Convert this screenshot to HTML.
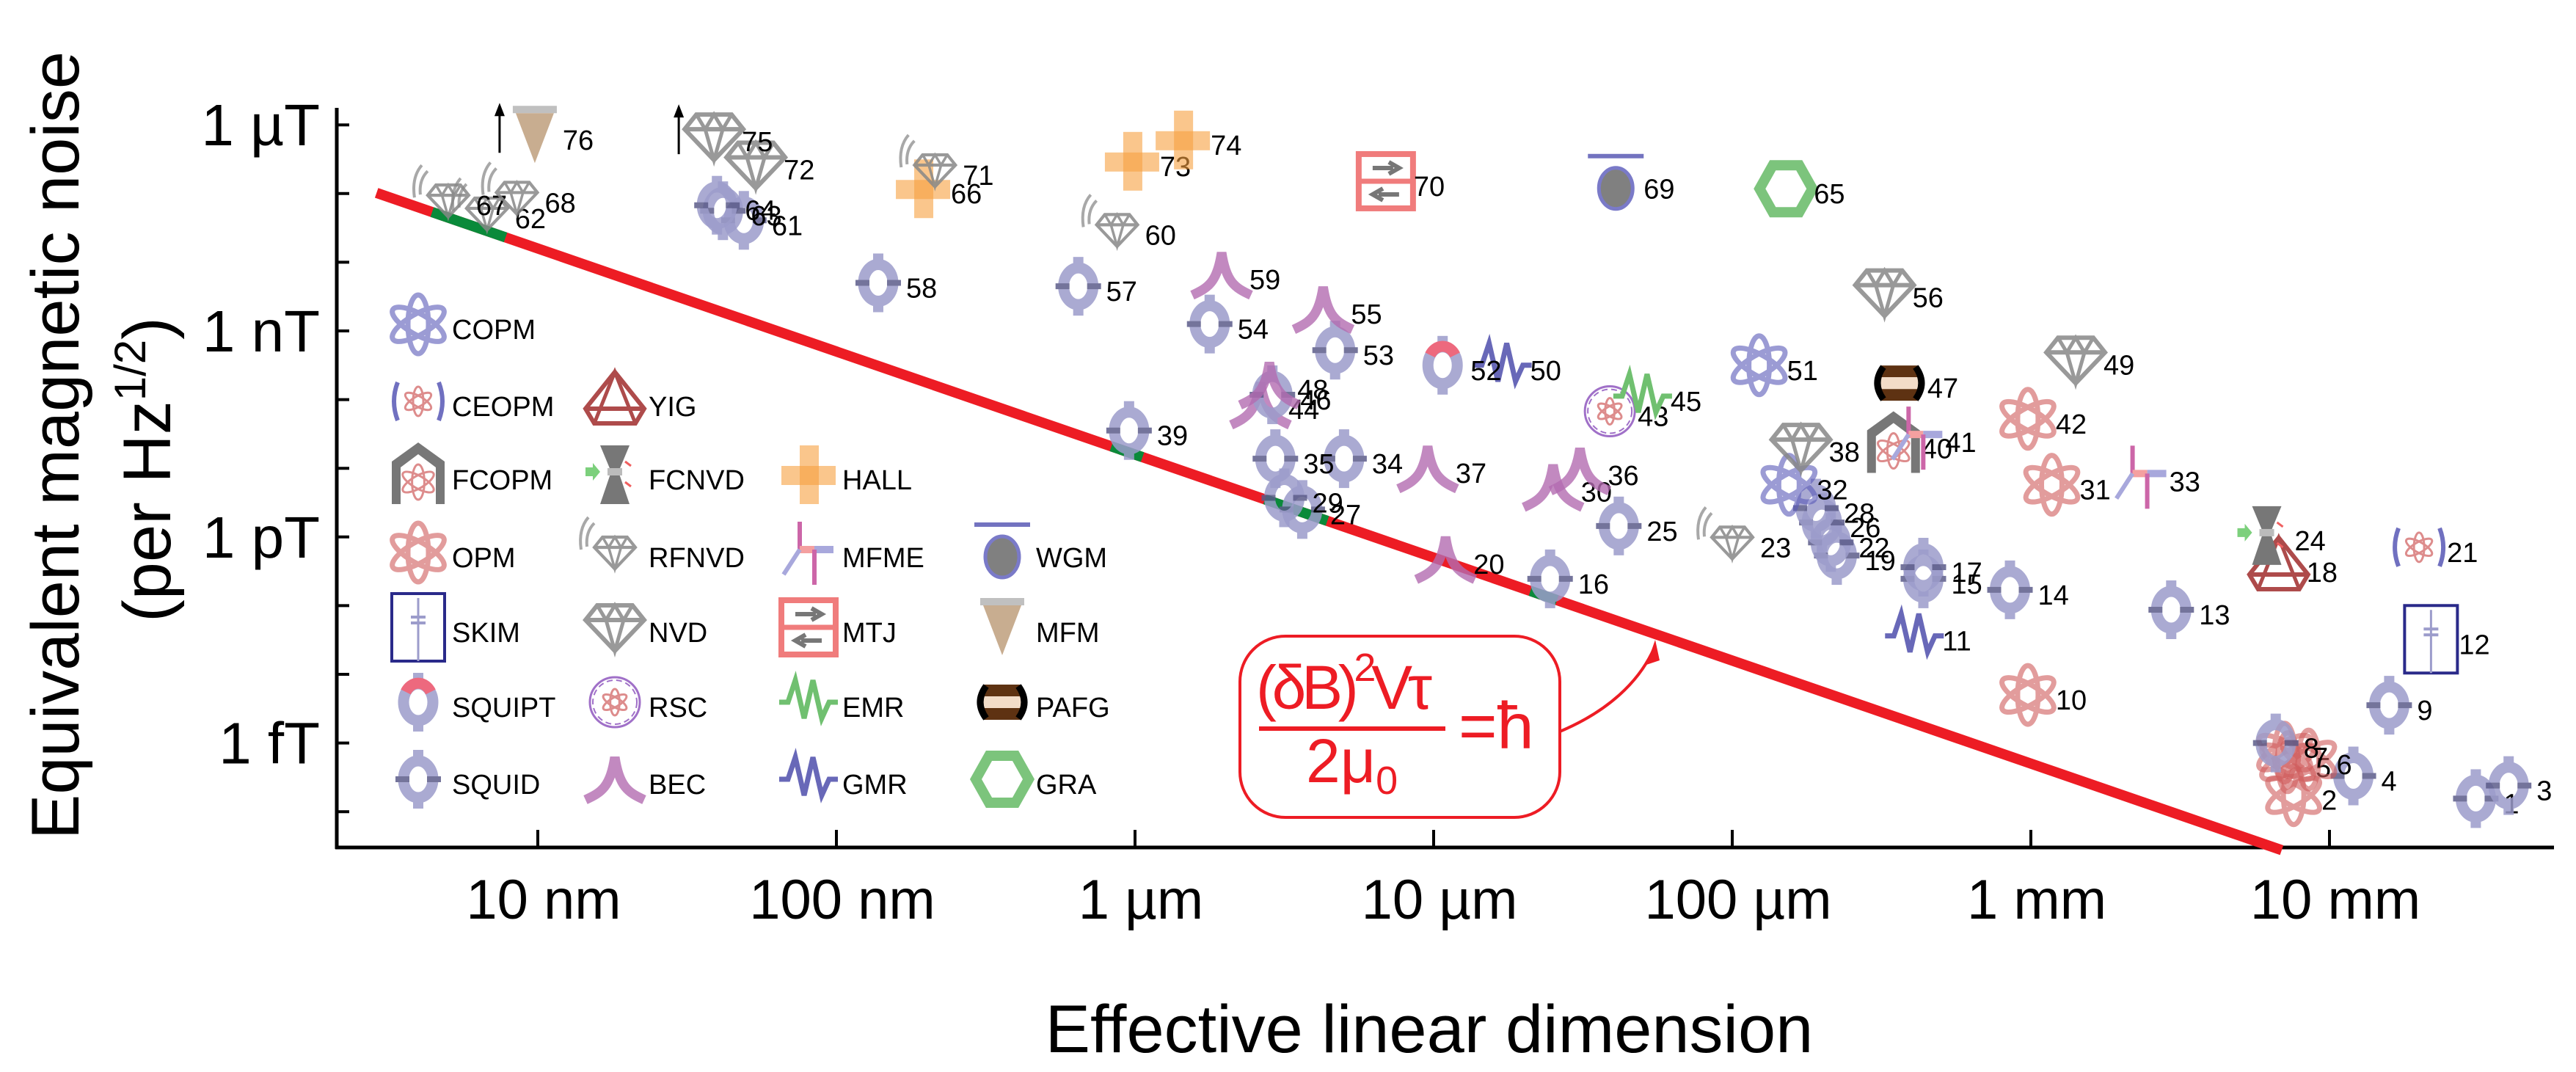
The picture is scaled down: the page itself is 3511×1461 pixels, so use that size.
<!DOCTYPE html>
<html><head><meta charset="utf-8"><style>
html,body{margin:0;padding:0;background:#fff;}
svg{display:block;font-family:"Liberation Sans",sans-serif;}
</style></head><body>
<svg id="chart" width="3511" height="1461" viewBox="0 0 3511 1461" xmlns="http://www.w3.org/2000/svg">
<g id="axes"></g>
<g id="hline"></g>
<g id="pts"></g>
<g id="legend"></g>
<g>
<rect x="1690" y="867" width="436" height="247" rx="62" fill="#fff" stroke="#ed1c24" stroke-width="4"/>
<text x="1712" y="966" font-size="84" fill="#ed1c24" textLength="240">(δB)<tspan dy="-38" font-size="54">2</tspan><tspan dy="38">Vτ</tspan></text>
<line x1="1716" y1="993" x2="1970" y2="993" stroke="#ed1c24" stroke-width="6"/>
<text x="1780" y="1066" font-size="84" fill="#ed1c24">2μ<tspan dy="16" font-size="54">0</tspan></text>
<text x="1988" y="1020" font-size="90" fill="#ed1c24">=ħ</text>
<path d="M2126,997 C2190,970 2235,930 2256,880" fill="none" stroke="#ed1c24" stroke-width="4"/>
<polygon points="2256,872 2244,906 2262,900" fill="#ed1c24"/>
</g>
</svg>
<script>
const NS="http://www.w3.org/2000/svg";
// ---- data ----
const pointIds=[1,2,3,4,5,6,7,8,9,10,11,12,13,14,15,16,17,18,19,20,21,22,23,24,25,26,27,28,29,30,31,32,33,34,35,36,37,38,39,40,41,42,43,44,45,46,47,48,49,50,51,52,53,54,55,56,57,58,59,60,61,62,63,64,65,66,67,68,69,70,71,72,73,74,75,76];
const pointTypes=["SQUID","OPM","SQUID","SQUID","OPM","OPM","OPM","SQUID","SQUID","OPM","GMR","SKIM","SQUID","SQUID","SQUID","SQUID","SQUID","YIG","SQUID","BEC","CEOPM","SQUID","RFNVD","FCNVD","SQUID","SQUID","SQUID","SQUID","SQUID","BEC","OPM","COPM","MFME","SQUID","SQUID","BEC","BEC","NVD","SQUID","FCOPM","MFME","OPM","RSC","BEC","EMR","SQUID","PAFG","BEC","NVD","GMR","COPM","SQUIPT","SQUID","SQUID","BEC","NVD","SQUID","SQUID","BEC","RFNVD","SQUID","RFNVD","SQUID","SQUID","GRA","HALL","RFNVD","RFNVD","WGM","MTJ","RFNVD","NVD","HALL","HALL","NVD","MFM"];
// log10 of effective linear dimension (m)
const logSize=[-1.51,-2.12,-1.40,-1.92,-2.14,-2.07,-2.15,-2.18,-1.80,-3.01,-3.39,-1.66,-2.53,-3.07,-3.36,-4.61,-3.36,-2.17,-3.65,-4.96,-1.70,-3.67,-4.00,-2.21,-4.38,-3.70,-5.44,-3.72,-5.50,-4.60,-2.93,-3.81,-2.63,-5.30,-5.53,-4.51,-5.02,-3.77,-6.02,-3.46,-3.38,-3.01,-4.41,-5.58,-4.30,-5.54,-3.44,-5.55,-2.85,-4.77,-3.91,-4.97,-5.33,-5.75,-5.37,-3.49,-6.19,-6.86,-5.71,-6.06,-7.31,-8.17,-7.38,-7.40,-3.82,-6.71,-8.30,-8.07,-4.39,-5.16,-6.67,-7.27,-6.01,-5.84,-7.41,-8.01];
// log10 of equivalent magnetic noise (T per Hz^1/2)
const logNoise=[-15.81,-15.76,-15.62,-15.48,-15.28,-15.24,-15.14,-15.00,-14.45,-14.30,-13.44,-13.49,-13.06,-12.77,-12.61,-12.61,-12.44,-12.44,-12.27,-12.32,-12.15,-12.08,-12.08,-11.98,-11.84,-11.79,-11.60,-11.58,-11.43,-11.27,-11.24,-11.24,-11.12,-10.86,-10.86,-11.03,-11.00,-10.69,-10.45,-10.64,-10.55,-10.28,-10.17,-10.07,-9.95,-9.93,-9.76,-9.78,-9.42,-9.50,-9.50,-9.50,-9.28,-8.90,-8.68,-8.44,-8.35,-8.30,-8.18,-7.53,-7.39,-7.29,-7.25,-7.17,-6.93,-6.93,-7.10,-7.06,-6.86,-6.82,-6.66,-6.58,-6.53,-6.22,-6.17,-6.15];
const lowerBoundIds=[75,76];
const xTickLogs=[-8,-7,-6,-5,-4,-3,-2];
const xTickLabels=["10 nm","100 nm","1 µm","10 µm","100 µm","1 mm","10 mm"];
const yTickLogs=[-6,-7,-8,-9,-10,-11,-12,-13,-14,-15,-16];
const yLabelLogs=[-6,-9,-12,-15];
const yLabelTexts=["1 µT","1 nT","1 pT","1 fT"];
const limitLineSize=[-8.54,-2.16];
const limitLineIntercept=-6.99; const limitLineSlope=-1.5; const limitLineRef=-8.54;
const onLineRanges=[[-8.354,-8.108],[-6.079,-5.975],[-5.565,-5.356],[-4.676,-4.587]];
const legendTypes=["COPM","CEOPM","YIG","FCOPM","FCNVD","HALL","OPM","RFNVD","MFME","WGM","SKIM","NVD","MTJ","MFM","SQUIPT","RSC","EMR","PAFG","SQUID","BEC","GMR","GRA"];
const legendCol=[0,0,1,0,1,2,0,1,2,3,0,1,2,3,0,1,2,3,0,1,2,3];
const legendRow=[0,1,1,2,2,2,3,3,3,3,4,4,4,4,5,5,5,5,6,6,6,6];
// ---- scales ----
const X0=459,X1=3481,Y0=147,Y1=1155;
function xs(l){return 733+407*(l+8);}
function ys(l){return 451-93.6*(l+9);}
function el(tag,attrs,parent){const e=document.createElementNS(NS,tag);for(const k in attrs)e.setAttribute(k,attrs[k]);if(parent)parent.appendChild(e);return e;}
// ---- axes ----
const ax=document.getElementById('axes');
const yAxis=el('line',{x1:X0,y1:Y0,x2:X0,y2:Y1+2,stroke:'#000','stroke-width':5},ax);


const xAxis=el('line',{x1:X0-2,y1:Y1,x2:X1,y2:Y1,stroke:'#000','stroke-width':5},ax);


yTickLogs.forEach(v=>{const t=el('line',{x1:X0,x2:X0+17,y1:ys(v),y2:ys(v),stroke:'#000','stroke-width':4},ax);

});
yLabelLogs.forEach((v,i)=>{const t=el('text',{x:436,y:ys(v)+28,'font-size':80,'text-anchor':'end'},ax);t.textContent=yLabelTexts[i];

});
xTickLogs.forEach((v,i)=>{const t=el('line',{x1:xs(v),x2:xs(v),y1:Y1,y2:Y1-24,stroke:'#000','stroke-width':4},ax);


const l=el('text',{x:xs(v)+8,y:1252,'font-size':76,'text-anchor':'middle'},ax);l.textContent=xTickLabels[i];

});
const xt=el('text',{x:1948,y:1434,'font-size':92,'text-anchor':'middle'},ax);xt.textContent='Effective linear dimension';


const yt=el('text',{x:0,y:0,'font-size':92,'text-anchor':'middle',transform:'translate(107,607) rotate(-90)'},ax);yt.textContent='Equivalent magnetic noise';


const yt2=el('text',{x:0,y:0,'font-size':92,'text-anchor':'middle',transform:'translate(232,640) rotate(-90)'},ax);
yt2.innerHTML='(per Hz<tspan dy="-34" font-size="60">1/2</tspan><tspan dy="34">)</tspan>';


// ---- limit line ----
const hl=document.getElementById('hline');
function lineY(l){return ys(limitLineIntercept+limitLineSlope*(l-limitLineRef));}
const ll=el('line',{x1:xs(limitLineSize[0]),y1:lineY(limitLineSize[0]),x2:xs(limitLineSize[1]),y2:lineY(limitLineSize[1]),stroke:'#ed1c24','stroke-width':14},hl);


onLineRanges.forEach(r=>{const s=el('line',{x1:xs(r[0]),y1:lineY(r[0]),x2:xs(r[1]),y2:lineY(r[1]),stroke:'#0a8a3a','stroke-width':14},hl);

});
// ---- icons ----
function atom(g,c,s,w){for(const a of [0,60,-60]){el('ellipse',{cx:0,cy:0,rx:14*s,ry:40*s,fill:'none',stroke:c,'stroke-width':w,transform:'rotate('+a+')'},g);}}
function gem(g,s){el('polygon',{points:[[-24,-30],[24,-30],[40,-10],[0,32],[-40,-10]].map(p=>p[0]*s+','+p[1]*s).join(' '),fill:'none',stroke:'#888','stroke-width':6*s},g);
el('line',{x1:-40*s,y1:-10*s,x2:40*s,y2:-10*s,stroke:'#888','stroke-width':6*s},g);
el('polyline',{points:[[-24,-30],[-12,-10],[0,-30],[12,-10],[24,-30]].map(p=>p[0]*s+','+p[1]*s).join(' '),fill:'none',stroke:'#888','stroke-width':5*s},g);
el('polyline',{points:[[-12,-10],[0,32],[12,-10]].map(p=>p[0]*s+','+p[1]*s).join(' '),fill:'none',stroke:'#888','stroke-width':5*s},g);}
function drawIcon(type,cx,cy,parent){
 const g=el('g',{transform:'translate('+cx+','+cy+')'},parent);
 switch(type){
 case 'SQUID': case 'SQUIPT':
  g.setAttribute('opacity','0.85');
  el('rect',{x:-7,y:-40,width:14,height:16,fill:'#9c9ccb'},g);el('rect',{x:-7,y:24,width:14,height:16,fill:'#9c9ccb'},g);
  el('ellipse',{cx:0,cy:0,rx:20,ry:25,fill:'none',stroke:'#9c9ccb','stroke-width':15},g);
  if(type==='SQUID'){el('line',{x1:-31,y1:0,x2:-12,y2:0,stroke:'#5c5c8a','stroke-width':8},g);el('line',{x1:12,y1:0,x2:31,y2:0,stroke:'#5c5c8a','stroke-width':8},g);}
  else el('path',{d:'M-17,-14 A20,25 0 0 1 17,-14',fill:'none',stroke:'#ea5068','stroke-width':15},g);
  break;
 case 'COPM': g.setAttribute('opacity','0.6');atom(g,'#5a5ab8',1,7);break;
 case 'OPM': g.setAttribute('opacity','0.6');atom(g,'#d05c5c',1,7);break;
 case 'NVD': g.setAttribute('opacity','0.85');gem(g,1);break;
 case 'RFNVD': g.setAttribute('opacity','0.85');gem(g,0.7);
  el('path',{d:'M-38,-8 Q-40,-28 -28,-40',fill:'none',stroke:'#999','stroke-width':4},g);el('path',{d:'M-46,-4 Q-50,-32 -36,-48',fill:'none',stroke:'#999','stroke-width':4},g);break;
 case 'BEC': g.setAttribute('opacity','0.8');el('path',{d:'M-40,28 C-18,18 -6,10 0,-30 C6,10 18,18 40,28',fill:'none',stroke:'#b36bb0','stroke-width':13},g);break;
 case 'HALL': el('rect',{x:-37,y:-12,width:74,height:26,fill:'#f7a040','fill-opacity':0.6},g);el('rect',{x:-12,y:-40,width:26,height:80,fill:'#f7a040','fill-opacity':0.6},g);break;
 case 'MTJ': el('rect',{x:-37,y:-37,width:74,height:74,fill:'#fff',stroke:'#f07c7c','stroke-width':8},g);el('line',{x1:-37,y1:0,x2:37,y2:0,stroke:'#f07c7c','stroke-width':7},g);
  el('path',{d:'M-18,-18 L10,-18 M4,-26 L18,-18 L4,-10',fill:'none',stroke:'#777','stroke-width':6},g);el('path',{d:'M18,18 L-10,18 M-4,10 L-18,18 L-4,26',fill:'none',stroke:'#777','stroke-width':6},g);break;
 case 'WGM': el('line',{x1:-38,y1:-38,x2:38,y2:-38,stroke:'#7373c0','stroke-width':6},g);el('ellipse',{cx:0,cy:6,rx:23,ry:28,fill:'#808080',stroke:'#7a7ac8','stroke-width':5},g);break;
 case 'GRA': el('polygon',{points:'-18,-32 18,-32 36,0 18,32 -18,32 -36,0',fill:'none',stroke:'#7cc47c','stroke-width':14},g);break;
 case 'EMR': case 'GMR': el('polyline',{points:'-40,0 -28,0 -18,-30 -6,22 6,-30 18,22 28,0 40,0',fill:'none',stroke:type==='EMR'?'#70c070':'#6868b8','stroke-width':7},g);break;
 case 'PAFG': el('rect',{x:-26,y:-24,width:52,height:16,fill:'#5e3212'},g);el('rect',{x:-26,y:8,width:52,height:16,fill:'#5e3212'},g);
  el('rect',{x:-26,y:-8,width:52,height:16,fill:'#f2dcc8'},g);
  el('path',{d:'M-22,-22 Q-38,0 -22,22',fill:'none',stroke:'#000','stroke-width':9},g);el('path',{d:'M22,-22 Q38,0 22,22',fill:'none',stroke:'#000','stroke-width':9},g);break;
 case 'MFME': el('line',{x1:-12,y1:-42,x2:-12,y2:-4,stroke:'#cc66a8','stroke-width':6},g);el('line',{x1:-12,y1:-4,x2:8,y2:-4,stroke:'#f4a0a0','stroke-width':10},g);
  el('line',{x1:8,y1:-4,x2:34,y2:-4,stroke:'#a8a8dc','stroke-width':10},g);el('line',{x1:8,y1:-4,x2:8,y2:44,stroke:'#cc66a8','stroke-width':6},g);el('line',{x1:-12,y1:-4,x2:-34,y2:30,stroke:'#a8a8dc','stroke-width':6},g);break;
 case 'MFM': el('rect',{x:-30,y:-40,width:60,height:10,fill:'#c0c0c0'},g);el('polygon',{points:'-26,-30 26,-30 0,38',fill:'#c8ad90'},g);break;
 case 'YIG': g.setAttribute('opacity','0.85');el('polygon',{points:'0,-40 -40,10 -28,30 28,30 40,10',fill:'none',stroke:'#a02c2c','stroke-width':6},g);
  el('line',{x1:-40,y1:10,x2:40,y2:10,stroke:'#a02c2c','stroke-width':6},g);el('polyline',{points:'-28,30 0,-40 28,30',fill:'none',stroke:'#a02c2c','stroke-width':5},g);break;
 case 'FCNVD': el('polygon',{points:'-20,-40 20,-40 5,-4 20,40 -20,40 -5,-4',fill:'#777'},g);el('rect',{x:-10,y:-9,width:20,height:10,fill:'#bbb'},g);
  el('polygon',{points:'-40,-10 -30,-10 -30,-16 -20,-4 -30,8 -30,2 -40,2',fill:'#7cd07c'},g);el('path',{d:'M14,-18 L22,-12 M14,10 L22,16',stroke:'#f06060','stroke-width':3},g);break;
 case 'SKIM': el('rect',{x:-36,y:-46,width:72,height:92,fill:'none',stroke:'#2a2a8a','stroke-width':4},g);el('line',{x1:0,y1:-40,x2:0,y2:46,stroke:'#9c9ccb','stroke-width':3},g);
  el('line',{x1:-10,y1:-14,x2:10,y2:-14,stroke:'#9c9ccb','stroke-width':4},g);el('line',{x1:-10,y1:-6,x2:10,y2:-6,stroke:'#9c9ccb','stroke-width':4},g);break;
 case 'RSC': el('circle',{cx:0,cy:0,r:34,fill:'none',stroke:'#a070c8','stroke-width':3},g);el('circle',{cx:0,cy:0,r:30,fill:'none',stroke:'#a070c8','stroke-width':2,'stroke-dasharray':'8,5'},g);
  const a=el('g',{opacity:0.7},g);atom(a,'#d05c5c',0.45,3);break;
 case 'CEOPM': el('path',{d:'M-28,-26 Q-38,0 -28,26',fill:'none',stroke:'#7070c0','stroke-width':6},g);el('path',{d:'M28,-26 Q38,0 28,26',fill:'none',stroke:'#7070c0','stroke-width':6},g);
  {const a=el('g',{opacity:0.7},g);atom(a,'#d05c5c',0.5,3);}break;
 case 'FCOPM': el('polygon',{points:'-36,40 -36,-18 0,-44 36,-18 36,40 24,40 24,-10 0,-28 -24,-10 -24,40',fill:'#777'},g);
  {const a=el('g',{opacity:0.7,transform:'translate(0,10)'},g);atom(a,'#d05c5c',0.6,3);}break;
 }
 return g;
}
// ---- points ----
const pg=document.getElementById('pts');
pointIds.forEach((id,i)=>{
 const cx=xs(logSize[i]),cy=ys(logNoise[i]);
 const g=drawIcon(pointTypes[i],cx,cy,pg);
 
 
 const t=el('text',{x:cx+38,y:cy+20,'font-size':38},pg);t.textContent=id;
 
 
 if(lowerBoundIds.includes(id)){
  const a=el('path',{d:'M'+(cx-48)+','+(cy+24)+' L'+(cx-48)+','+(cy-40),stroke:'#000','stroke-width':3},pg);
  
  
  const h=el('polygon',{points:(cx-55)+','+(cy-26)+' '+(cx-48)+','+(cy-44)+' '+(cx-41)+','+(cy-26),fill:'#000'},pg);
  
  
 }
});
// ---- legend ----
const lg=document.getElementById('legend');
const colX=[570,838,1102,1366],rowY=[442,547,647,753,855,957,1062];
legendTypes.forEach((ty,i)=>{
 const cx=colX[legendCol[i]],cy=rowY[legendRow[i]];
 const g=drawIcon(ty,cx,cy,lg);
 
 
 const t=el('text',{x:cx+46,y:cy+20,'font-size':38},lg);t.textContent=ty;
 
 
});
</script>
</body></html>
